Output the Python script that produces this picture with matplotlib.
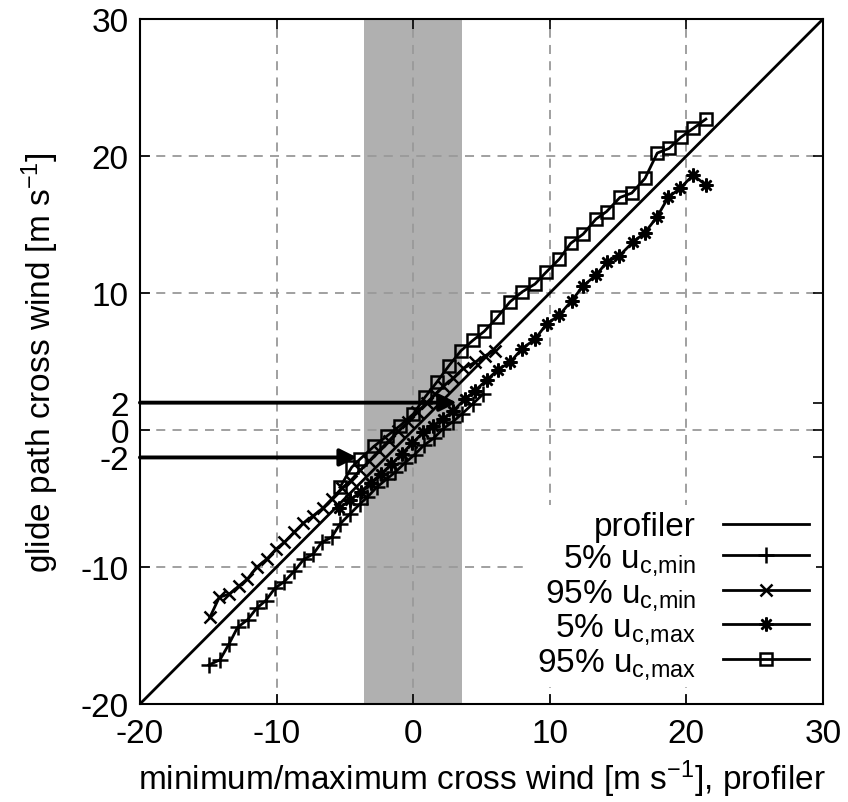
import matplotlib
matplotlib.use("Agg")
import matplotlib.pyplot as plt

plt.rcParams['font.family'] = ['Liberation Sans', 'DejaVu Sans']
plt.rcParams['mathtext.default'] = 'regular'
plt.rcParams['axes.unicode_minus'] = False

# profiler (1:1 line)
prof_x = [-20, 30]
prof_y = [-20, 30]

# 5% u_c,min
p5min_x = [-14.95, -14.14, -13.48, -12.85, -12.12, -11.46, -10.8, -10.12, -9.44, -8.7,
           -7.99, -7.31, -6.7, -5.97, -5.36, -4.63, -3.9, -3.36, -2.67, -1.94,
           -1.33, -0.6, 0.1, 0.8, 1.5, 2.2, 2.9, 3.6, 4.35, 5.1]
p5min_y = [-17.15, -16.77, -15.62, -14.4, -13.85, -13.01, -12.46, -11.55, -11.07, -10.3,
           -9.42, -9.05, -8.2, -7.83, -6.86, -6.13, -5.4, -4.91, -4.18, -3.58,
           -3.09, -2.4, -1.8, -1.1, -0.6, 0.1, 0.6, 1.2, 1.9, 2.6]

# 95% u_c,min
p95min_x = [-14.88, -14.19, -13.46, -12.73, -12.14, -11.46, -10.72, -10.04, -9.44, -8.73,
            -8.04, -7.31, -6.63, -5.97, -5.24, -4.58, -3.9, -3.2, -2.5, -1.8,
            -1.1, -0.4, 0.3, 1.0, 1.6, 2.2, 2.94, 3.67, 4.52, 5.26, 5.99]
p95min_y = [-13.67, -12.21, -11.97, -11.36, -10.88, -10.02, -9.42, -8.69, -8.2, -7.47,
            -6.79, -6.25, -5.72, -5.04, -4.26, -3.7, -2.95, -2.25, -1.5, -0.8,
            -0.1, 0.6, 1.3, 2.0, 2.6, 3.2, 3.8, 4.5, 4.94, 5.42, 5.79]

# 5% u_c,max
p5max_x = [-5.4, -4.6, -3.85, -3.1, -2.35, -1.6, -0.85, -0.05, 0.74, 1.47,
           2.2, 2.94, 3.79, 4.52, 5.38, 6.2, 7.09, 7.94, 8.92, 9.77,
           10.7, 11.6, 12.45, 13.38, 14.21, 15.09, 16.07, 16.95, 17.83, 18.67,
           19.53, 20.5, 21.43]
p5max_y = [-5.7, -5.1, -4.5, -3.85, -3.2, -2.5, -1.75, -0.95, -0.17, 0.31,
           0.8, 1.41, 2.26, 2.87, 3.65, 4.4, 4.94, 5.91, 6.64, 7.74,
           8.39, 9.44, 10.53, 11.31, 12.28, 12.72, 13.7, 14.4, 15.52, 16.98,
           17.64, 18.61, 17.88]

# 95% u_c,max
p95max_x = [-5.36, -4.5, -3.89, -2.87, -1.9, -0.97, 0.01, 0.86, 1.72, 2.6,
            3.5, 4.38, 5.2, 6.16, 7.09, 8.0, 8.92, 9.72, 10.7, 11.53,
            12.45, 13.38, 14.16, 15.14, 16.0, 16.97, 17.87, 18.73, 19.58, 20.5,
            21.43]
p95max_y = [-4.18, -2.72, -2.12, -1.19, -0.42, 0.31, 1.17, 2.39, 3.48, 4.67,
            5.79, 6.55, 7.2, 8.23, 9.36, 10.1, 10.66, 11.51, 12.48, 13.63,
            14.31, 15.4, 15.95, 16.98, 17.3, 18.37, 20.22, 20.56, 21.36, 22.02,
            22.7]

# shaded range and the two arrows
band = (-3.6, 3.6)
arrow_y = [2, -2]
arrow_tip = [3.2, -4.1]

xticks = [-20, -10, 0, 10, 20, 30]
yticks = [-20, -10, 0, 10, 20, 30]
yticks_minor = [-2, 2]

fs = 24

fig = plt.figure(figsize=(8.48, 8.03), dpi=100)
ax = fig.add_axes([0.165, 0.122, 0.8055, 0.853])

ax.axvspan(band[0], band[1], color='#b0b0b0', lw=0, zorder=0.2)

ax.plot(prof_x, prof_y, color='k', lw=2, label='profiler', zorder=3)
ax.plot(p5min_x, p5min_y, color='k', lw=2, marker='+', ms=11, mew=1.8,
        label='5% u$_{c{,}min}$', zorder=3)
ax.plot(p95min_x, p95min_y, color='k', lw=2, marker='x', ms=9, mew=1.8,
        label='95% u$_{c{,}min}$', zorder=3)
ax.plot(p5max_x, p5max_y, color='k', lw=2, marker=(8, 2, 0), ms=10, mew=1.8,
        label='5% u$_{c{,}max}$', zorder=3)
ax.plot(p95max_x, p95max_y, color='k', lw=2, marker='s', ms=9, mew=1.8,
        mfc='none', label='95% u$_{c{,}max}$', zorder=3)

for yy, tip in zip(arrow_y, arrow_tip):
    ax.annotate('', xy=(tip, yy), xytext=(-20, yy),
                arrowprops=dict(arrowstyle='-|>', lw=2.8, color='k',
                                mutation_scale=26, shrinkA=0, shrinkB=0),
                zorder=4)

ax.set_xlim(-20, 30)
ax.set_ylim(-20, 30)
ax.set_xticks(xticks)
ax.set_yticks(yticks)
ax.set_yticks(yticks_minor, labels=[str(v) for v in yticks_minor], minor=True)
ax.set_axisbelow(True)
ax.grid(which='major', color='#999999', ls=(0, (5, 4)), lw=1.3)
ax.tick_params(which='both', direction='in', top=True, right=True,
               labelsize=fs, length=7, width=1.2)
ax.tick_params(axis='y', which='both', pad=8)
ax.tick_params(axis='x', which='both', pad=10)
for s in ax.spines.values():
    s.set_linewidth(1.5)

ax.set_xlabel('minimum/maximum cross wind [m s$^{-1}$], profiler', fontsize=fs, labelpad=6)
ax.set_ylabel('glide path cross wind [m s$^{-1}$]', fontsize=fs, labelpad=14)

leg = ax.legend(loc='lower right', bbox_to_anchor=(1.014, 0.0), frameon=True,
                fancybox=False, facecolor='white', edgecolor='none', framealpha=1,
                fontsize=fs, markerfirst=False, handlelength=2.6, handletextpad=0.8,
                labelspacing=-0.01, borderpad=0.2)

fig.savefig('out.png', dpi=100)
